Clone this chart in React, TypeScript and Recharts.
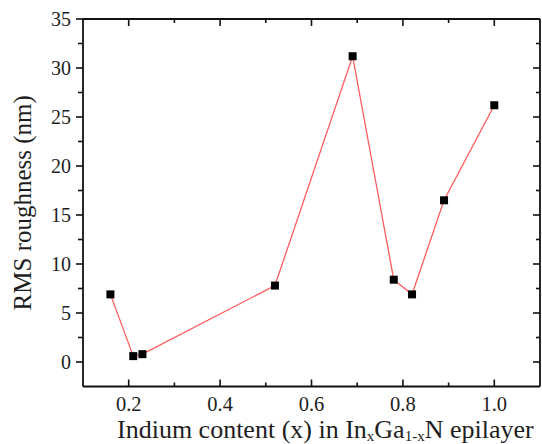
import React from 'react';
import { LineChart, Line, XAxis, YAxis, Label } from 'recharts';

const indiumContent = [0.16, 0.21, 0.23, 0.52, 0.69, 0.78, 0.82, 0.89, 1.0];
const rmsRoughness = [6.9, 0.6, 0.8, 7.8, 31.2, 8.4, 6.9, 16.5, 26.2];

const xMajorTicks = [0.2, 0.4, 0.6, 0.8, 1.0];
const xMinorTicks = [0.3, 0.5, 0.7, 0.9];
const yMajorTicks = [0, 5, 10, 15, 20, 25, 30, 35];
const yMinorTicks = [2.5, 7.5, 12.5, 17.5, 22.5, 27.5, 32.5];

const xDomain: [number, number] = [0.1, 1.1];
const yDomain: [number, number] = [-2.5, 35];

const data = indiumContent.map((x, i) => ({ x, y: rmsRoughness[i] }));
const xTicks = [...xMajorTicks, ...xMinorTicks].sort((a, b) => a - b);
const yTicks = [...yMajorTicks, ...yMinorTicks].sort((a, b) => a - b);

const FONT = '"Liberation Serif", "Times New Roman", serif';
const TEXT = '#1e1e1e';
const AXIS = '#111';

const isMajor = (v: number, list: number[]) => list.some((m) => Math.abs(m - v) < 1e-6);

const BottomTick = (props: any) => {
  const { x, y, payload } = props;
  const major = isMajor(payload.value, xMajorTicks);
  return (
    <g>
      <line x1={x} x2={x} y1={y} y2={y - (major ? 7 : 4)} stroke={AXIS} strokeWidth={1.6} />
      {major && (
        <text x={x} y={y + 24} textAnchor="middle" fontSize={20.5} style={{ fontFamily: FONT }} fill={TEXT}>
          {payload.value.toFixed(1)}
        </text>
      )}
    </g>
  );
};

const TopTick = (props: any) => {
  const { x, y, payload } = props;
  const major = isMajor(payload.value, xMajorTicks);
  return <line x1={x} x2={x} y1={y} y2={y + (major ? 7 : 4)} stroke={AXIS} strokeWidth={1.6} />;
};

const LeftTick = (props: any) => {
  const { x, y, payload } = props;
  const major = isMajor(payload.value, yMajorTicks);
  return (
    <g>
      <line x1={x} x2={x - (major ? 7 : 5)} y1={y} y2={y} stroke={AXIS} strokeWidth={1.6} />
      {major && (
        <text x={x - 12} y={y + 6.8} textAnchor="end" fontSize={20} style={{ fontFamily: FONT }} fill={TEXT}>
          {payload.value}
        </text>
      )}
    </g>
  );
};

const RightTick = (props: any) => {
  const { x, y, payload } = props;
  const major = isMajor(payload.value, yMajorTicks);
  return <line x1={x} x2={x - (major ? 7 : 4)} y1={y} y2={y} stroke={AXIS} strokeWidth={1.6} />;
};

const SquareDot = (p: any) => (
  <rect key={`dot-${p.index}`} x={p.cx - 4} y={p.cy - 4} width={8} height={8} fill="#000" />
);

const XTitle = (props: any) => {
  const vb = props.viewBox;
  return (
    <text x={vb.x + 34} y={vb.y + 51} fontSize={26} style={{ fontFamily: FONT }} fill={TEXT}>
      Indium content (x) in In
      <tspan dy={3} fontSize={15}>x</tspan>
      <tspan dy={-3}>Ga</tspan>
      <tspan dy={3} fontSize={15}>1-x</tspan>
      <tspan dy={-3}>N epilayer</tspan>
    </text>
  );
};

const YTitle = (props: any) => {
  const vb = props.viewBox;
  const cx = vb.x + 31;
  const cy = vb.y + vb.height / 2;
  return (
    <text
      x={cx}
      y={cy}
      transform={`rotate(-90, ${cx}, ${cy})`}
      textAnchor="middle"
      fontSize={25}
      style={{ fontFamily: FONT }}
      fill={TEXT}
    >
      RMS roughness (nm)
    </text>
  );
};

export default function App() {
  return (
    <div style={{ position: 'absolute', left: 0, top: 0, width: 542, height: 444, background: '#fff' }}>
      <LineChart width={542} height={444} data={data} margin={{ top: 0, right: 0, bottom: 0, left: 0 }}>
        <XAxis
          xAxisId="bottom"
          dataKey="x"
          type="number"
          domain={xDomain}
          ticks={xTicks}
          allowDataOverflow
          orientation="bottom"
          height={57.5}
          tickSize={0}
          tickMargin={0}
          tickLine={false}
          tick={<BottomTick />}
          interval={0}
          axisLine={{ stroke: AXIS, strokeWidth: 1.8 }}
        >
          <Label content={<XTitle />} />
        </XAxis>
        <XAxis
          xAxisId="top"
          dataKey="x"
          type="number"
          domain={xDomain}
          ticks={xTicks}
          allowDataOverflow
          orientation="top"
          height={19}
          tickSize={0}
          tickMargin={0}
          tickLine={false}
          tick={<TopTick />}
          interval={0}
          axisLine={{ stroke: AXIS, strokeWidth: 1.8 }}
        />
        <YAxis
          yAxisId="left"
          dataKey="y"
          type="number"
          domain={yDomain}
          ticks={yTicks}
          allowDataOverflow
          orientation="left"
          width={83}
          tickSize={0}
          tickMargin={0}
          tickLine={false}
          tick={<LeftTick />}
          interval={0}
          axisLine={{ stroke: AXIS, strokeWidth: 1.8 }}
        >
          <Label content={<YTitle />} />
        </YAxis>
        <YAxis
          yAxisId="right"
          dataKey="y"
          type="number"
          domain={yDomain}
          ticks={yTicks}
          allowDataOverflow
          orientation="right"
          width={2}
          tickSize={0}
          tickMargin={0}
          tickLine={false}
          tick={<RightTick />}
          interval={0}
          axisLine={{ stroke: AXIS, strokeWidth: 1.8 }}
        />
        <Line
          xAxisId="bottom"
          yAxisId="left"
          type="linear"
          dataKey="y"
          stroke="#ff5b5b"
          strokeWidth={1.3}
          dot={SquareDot}
          activeDot={false}
          isAnimationActive={false}
        />
      </LineChart>
    </div>
  );
}
